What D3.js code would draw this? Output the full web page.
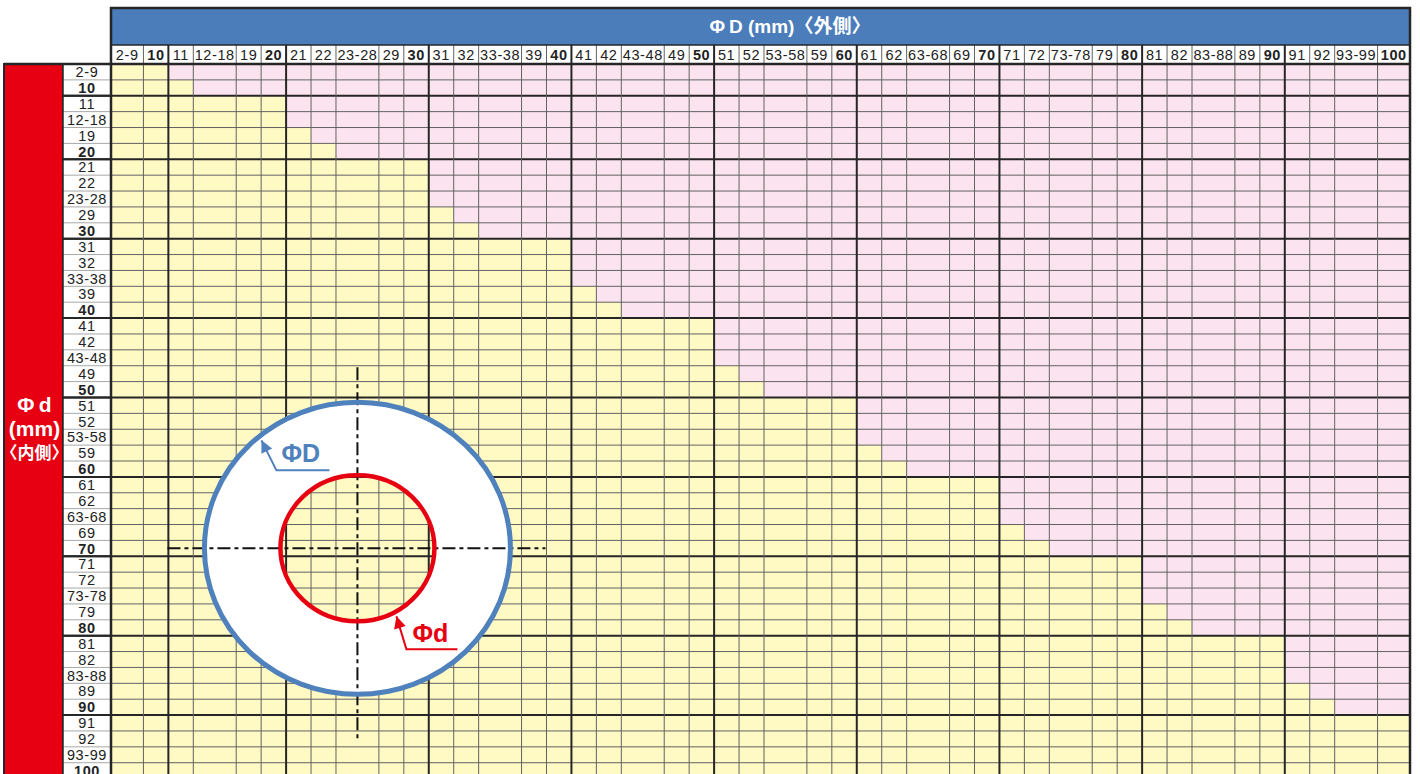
<!DOCTYPE html>
<html>
<head>
<meta charset="utf-8">
<script src="https://cdn.jsdelivr.net/npm/d3@7"></script>
<style>
  body { margin: 0; background: #fff; }
  svg { display: block; font-family: "Liberation Sans", Arial, "Noto Sans CJK JP", sans-serif; }
</style>
</head>
<body>
<div id="chart"></div>
<script>
// Size labels for outer (columns) and inner (rows) diameter
const outerLabels = ["2-9", "10", "11", "12-18", "19", "20",
  "21", "22", "23-28", "29", "30", "31", "32", "33-38", "39", "40",
  "41", "42", "43-48", "49", "50", "51", "52", "53-58", "59", "60",
  "61", "62", "63-68", "69", "70", "71", "72", "73-78", "79", "80",
  "81", "82", "83-88", "89", "90", "91", "92", "93-99", "100"];
const innerLabels = outerLabels.slice();

// number of available (yellow) outer-diameter columns for each inner-diameter row
const availableCount = [2, 3, 6, 6, 7, 8,
  11, 11, 11, 12, 13, 16, 16, 16, 17, 18,
  21, 21, 21, 22, 23, 26, 26, 26, 27, 28,
  31, 31, 31, 32, 33, 36, 36, 36, 37, 38,
  41, 41, 41, 42, 43, 45, 45, 45, 45];

const titleOuter = "Φ\u2009D (mm)〈外側〉";
const titleInner = ["Φ\u2009d", "(mm)", "〈内側〉"];

// Configuration
const config = {
  width: 1420,
  height: 774,
  gridLeft: 111,
  gridRight: 1410,
  gridTop: 64,
  rowHeight: 15.88,
  headerTop: 8,
  labelRowTop: 45,
  sideLeft: 4,
  sideRight: 63,
  yellow: "#fff9c4",
  pink: "#fbe4ef",
  blue: "#4a7dba",
  red: "#e60012",
  thin: "#626262",
  thick: "#262626"
};

const isDecade = l => /^\d+$/.test(l) && +l % 10 === 0;
const colWeight = l => l.length >= 5 ? 1.72 : (l.length === 3 ? 1.3 : 1);

const svg = d3.select("#chart").append("svg")
  .attr("width", config.width)
  .attr("height", config.height);

// Column scale built from cumulative label widths
const weights = outerLabels.map(colWeight);
const ends = d3.cumsum(weights);
const starts = [0, ...Array.from(ends).slice(0, -1)];
const x = d3.scaleLinear()
  .domain([0, d3.sum(weights)])
  .range([config.gridLeft, config.gridRight]);
const colX = i => x(starts[i]);
const colW = i => x(ends[i]) - x(starts[i]);

const y = d3.scaleBand()
  .domain(innerLabels)
  .range([config.gridTop, config.gridTop + innerLabels.length * config.rowHeight]);
const gridBottom = y.range()[1];

// Cells
const cells = [];
innerLabels.forEach((r, i) => {
  outerLabels.forEach((c, j) => {
    cells.push({ row: r, col: j, ok: j < availableCount[i] });
  });
});

svg.append("g").selectAll("rect")
  .data(cells)
  .join("rect")
  .attr("x", d => colX(d.col))
  .attr("y", d => y(d.row))
  .attr("width", d => colW(d.col))
  .attr("height", y.bandwidth())
  .attr("fill", d => d.ok ? config.yellow : config.pink);

// Side block (inner diameter title)
svg.append("rect")
  .attr("x", config.sideLeft).attr("y", config.gridTop)
  .attr("width", config.sideRight - config.sideLeft)
  .attr("height", gridBottom - config.gridTop)
  .attr("fill", config.red)
  .attr("stroke", config.thick).attr("stroke-width", 2);

svg.append("rect")
  .attr("x", config.sideRight).attr("y", config.gridTop)
  .attr("width", config.gridLeft - config.sideRight)
  .attr("height", gridBottom - config.gridTop)
  .attr("fill", "#fff");

const sideText = svg.append("g")
  .attr("fill", "#fff")
  .attr("font-weight", "bold")
  .attr("text-anchor", "middle");
titleInner.forEach((t, i) => {
  sideText.append("text")
    .attr("x", (config.sideLeft + config.sideRight) / 2 + 1)
    .attr("y", 412 + i * 23.5)
    .attr("font-size", i === 2 ? 17 : 21)
    .attr("font-family", i === 2 ? "'Noto Sans CJK JP', sans-serif" : null)
    .text(t);
});

// Row labels
svg.append("g").selectAll("text")
  .data(innerLabels)
  .join("text")
  .attr("x", (config.sideRight + config.gridLeft) / 2)
  .attr("y", d => y(d) + y.bandwidth() / 2 + 5.2)
  .attr("text-anchor", "middle")
  .attr("font-size", 14.5)
  .attr("letter-spacing", 0.6)
  .attr("font-weight", d => isDecade(d) ? "bold" : null)
  .attr("fill", "#222")
  .text(d => d);

// Header bar
svg.append("rect")
  .attr("x", config.gridLeft).attr("y", config.headerTop)
  .attr("width", config.gridRight - config.gridLeft)
  .attr("height", config.labelRowTop - config.headerTop)
  .attr("fill", config.blue);

svg.append("text")
  .attr("x", 790)
  .attr("y", (config.headerTop + config.labelRowTop) / 2 + 6.5)
  .attr("text-anchor", "middle")
  .attr("fill", "#fff")
  .attr("font-weight", "bold")
  .attr("font-size", 19)
  .text(titleOuter);

// Column labels
svg.append("g").selectAll("text")
  .data(outerLabels)
  .join("text")
  .attr("x", (d, i) => colX(i) + colW(i) / 2)
  .attr("y", (config.labelRowTop + config.gridTop) / 2 + 5.2)
  .attr("text-anchor", "middle")
  .attr("font-size", 14.5)
  .attr("letter-spacing", 0.6)
  .attr("font-weight", d => isDecade(d) ? "bold" : null)
  .attr("fill", "#222")
  .text(d => d);

// Grid lines
const lines = svg.append("g").attr("fill", "none");

// row separators in the label column
lines.selectAll(".rowsep")
  .data(innerLabels.slice(0, -1))
  .join("line")
  .attr("x1", config.sideRight).attr("x2", config.gridLeft)
  .attr("y1", d => y(d) + y.bandwidth()).attr("y2", d => y(d) + y.bandwidth())
  .attr("stroke", d => isDecade(d) ? config.thick : "#a8a8a8")
  .attr("stroke-width", d => isDecade(d) ? 2 : 1);

// horizontal grid lines
lines.selectAll(".hline")
  .data(innerLabels.slice(0, -1))
  .join("line")
  .attr("x1", d => isDecade(d) ? config.sideRight : config.gridLeft)
  .attr("x2", config.gridRight)
  .attr("y1", d => y(d) + y.bandwidth()).attr("y2", d => y(d) + y.bandwidth())
  .attr("stroke", d => isDecade(d) ? config.thick : config.thin)
  .attr("stroke-width", d => isDecade(d) ? 2 : 1);

// vertical grid lines (also through the label row)
lines.selectAll(".vline")
  .data(outerLabels.slice(0, -1).map((d, i) => ({ label: d, i })))
  .join("line")
  .attr("x1", d => x(ends[d.i])).attr("x2", d => x(ends[d.i]))
  .attr("y1", config.labelRowTop).attr("y2", gridBottom)
  .attr("stroke", d => isDecade(d.label) ? config.thick : config.thin)
  .attr("stroke-width", d => isDecade(d.label) ? 2 : 1);

// frame
lines.append("line")
  .attr("x1", config.gridLeft).attr("x2", config.gridRight + 1)
  .attr("y1", config.labelRowTop).attr("y2", config.labelRowTop)
  .attr("stroke", config.thick).attr("stroke-width", 1.5);
lines.append("line")
  .attr("x1", config.gridLeft).attr("x2", config.gridRight + 1)
  .attr("y1", config.gridTop).attr("y2", config.gridTop)
  .attr("stroke", config.thick).attr("stroke-width", 2.5);
lines.append("line")
  .attr("x1", config.sideLeft).attr("x2", config.gridLeft)
  .attr("y1", config.gridTop).attr("y2", config.gridTop)
  .attr("stroke", config.thick).attr("stroke-width", 2.5);
lines.append("rect")
  .attr("x", config.gridLeft).attr("y", config.headerTop)
  .attr("width", config.gridRight - config.gridLeft)
  .attr("height", gridBottom - config.headerTop)
  .attr("stroke", config.thick).attr("stroke-width", 2.5);
lines.append("line")
  .attr("x1", config.sideRight).attr("x2", config.sideRight)
  .attr("y1", config.gridTop).attr("y2", gridBottom)
  .attr("stroke", config.thick).attr("stroke-width", 1.5);

// Ring illustration, centred on the 23-28 column / 70 row
const ci = outerLabels.indexOf("23-28");
const cx = colX(ci) + colW(ci) / 2;
const cy = y("70") + y.bandwidth() / 2;
const outer = { rx: 153, ry: 146 };
const inner = { rx: 77, ry: 73 };

const ellipsePath = (rx, ry) =>
  `M${cx - rx},${cy} a${rx},${ry} 0 1,0 ${2 * rx},0 a${rx},${ry} 0 1,0 ${-2 * rx},0 Z`;

const ring = svg.append("g");
ring.append("path")
  .attr("d", ellipsePath(outer.rx, outer.ry) + ellipsePath(inner.rx, inner.ry))
  .attr("fill", "#fff")
  .attr("fill-rule", "evenodd");

// centre lines
ring.append("line")
  .attr("x1", cx - 190).attr("x2", cx + 188)
  .attr("y1", cy).attr("y2", cy)
  .attr("stroke", "#111").attr("stroke-width", 2)
  .attr("stroke-dasharray", "13,4,4,4");
ring.append("line")
  .attr("x1", cx).attr("x2", cx)
  .attr("y1", cy - 181).attr("y2", cy + 193)
  .attr("stroke", "#111").attr("stroke-width", 2)
  .attr("stroke-dasharray", "13,4,4,4");

ring.append("ellipse")
  .attr("cx", cx).attr("cy", cy)
  .attr("rx", outer.rx).attr("ry", outer.ry)
  .attr("fill", "none")
  .attr("stroke", "#4f81bd").attr("stroke-width", 5);
ring.append("ellipse")
  .attr("cx", cx).attr("cy", cy)
  .attr("rx", inner.rx).attr("ry", inner.ry)
  .attr("fill", "none")
  .attr("stroke", config.red).attr("stroke-width", 4.5);

// leader with arrow head: tip, elbow, end
function leader(points, color, label, tx, ty) {
  const [tip, elbow] = points;
  ring.append("path")
    .attr("d", d3.line()(points))
    .attr("fill", "none")
    .attr("stroke", color).attr("stroke-width", 2);
  const dx = tip[0] - elbow[0], dy = tip[1] - elbow[1];
  const len = Math.hypot(dx, dy);
  const ux = dx / len, uy = dy / len;
  const hl = 12, hw = 6;
  const bx = tip[0] - ux * hl, by = tip[1] - uy * hl;
  ring.append("path")
    .attr("d", `M${tip[0]},${tip[1]} L${bx - uy * hw},${by + ux * hw} L${bx + uy * hw},${by - ux * hw} Z`)
    .attr("fill", color);
  ring.append("text")
    .attr("x", tx).attr("y", ty)
    .attr("fill", color)
    .attr("font-weight", "bold")
    .attr("font-size", 25)
    .text(label);
}

leader([[cx - 96, cy - 108], [cx - 81, cy - 78], [cx - 28, cy - 78]], "#4f81bd", "ΦD", cx - 76, cy - 86);
leader([[cx + 39, cy + 68], [cx + 49, cy + 101], [cx + 100, cy + 101]], config.red, "Φd", cx + 55, cy + 94);
</script>
</body>
</html>
